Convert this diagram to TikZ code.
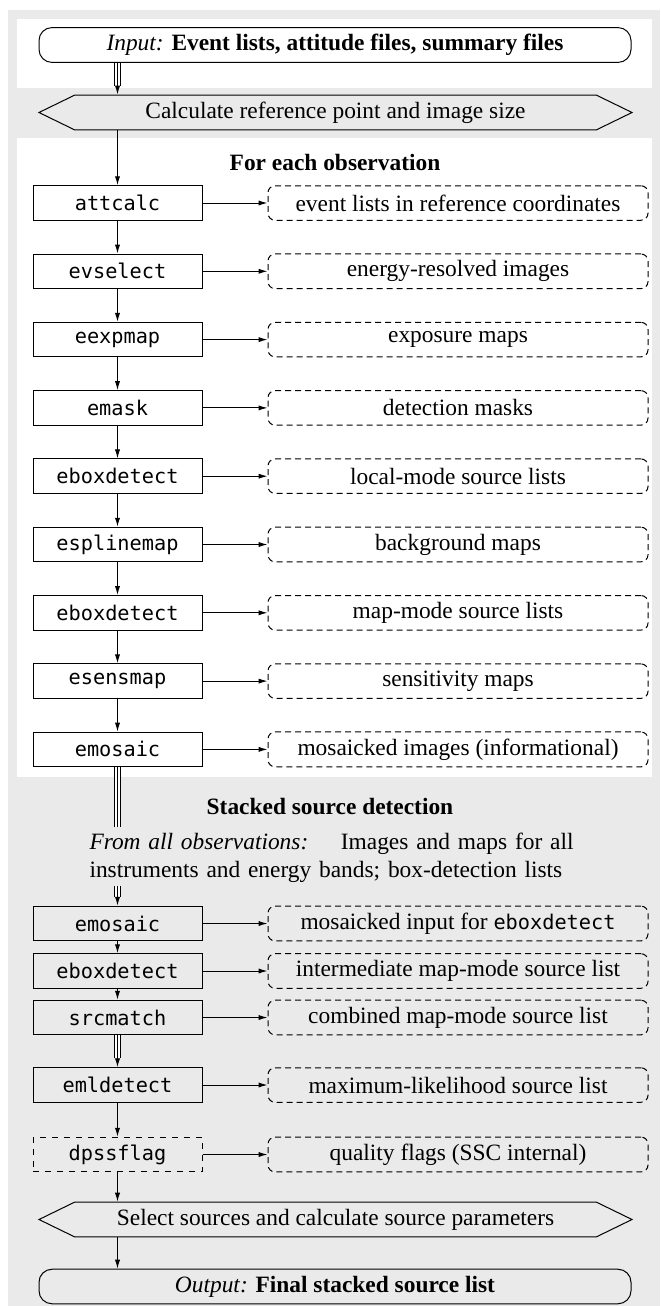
\documentclass[tikz,border=0pt]{standalone}
\usepackage{fontspec}
\setmainfont{Liberation Serif}
\setmonofont[Scale=0.866]{DejaVu Sans Mono}
\usepackage{xcolor}
\usepackage{tikz}
\usetikzlibrary{shapes.symbols, arrows.meta, positioning}
\definecolor{panelgray}{RGB}{234,234,234}
\newcommand{\diagfont}{\fontsize{11.7pt}{14pt}\selectfont}
\tikzstyle{arrow} = [->, >={Latex[length=4.5pt,width=2.6pt]}]
\tikzstyle{tripleline} = [double, double distance=2.5pt]
\tikzstyle{task} = [draw, rectangle, minimum width=84.5pt, minimum height=17.25pt, align=center, font=\diagfont\ttfamily]
\tikzstyle{product} = [draw, dashed, dash pattern=on 3pt off 2pt, rounded corners=3.5pt, rectangle, minimum width=190pt, minimum height=17.25pt, align=center]
\tikzstyle{terminal} = [draw, rectangle, rounded corners=6.5pt, minimum width=296pt, minimum height=17pt, align=center]
\tikzstyle{stage} = [draw, fill=panelgray, signal, signal to=west and east, signal pointer angle=52, minimum width=296.5pt, minimum height=16.5pt]

\begin{document}
\begin{tikzpicture}[x=0.5pt, y=-0.5pt, font=\diagfont, line width=0.5pt]
    \useasboundingbox (0,0) rectangle (660,1306);
    % panels
    \fill[panelgray] (8,10) rectangle (660,1306);
    \fill[white] (17,19) rectangle (652,88);
    \fill[white] (17,138) rectangle (652,777);

    \node[terminal] (input) at (335,45) {\textit{Input:} \textbf{Event lists, attitude files, summary files}};
    \node[stage] (refpoint) at (335.5,112.5) {Calculate reference point and image size};
    \node[font=\diagfont\bfseries] (eachobs) at (335,162) {For each observation};

    % per observation
    \node[task] (attcalc) at (117.5,203) {attcalc};
    \node[task, below=16.4pt of attcalc] (evselect) {evselect};
    \node[task, below=16.4pt of evselect] (eexpmap) {eexpmap};
    \node[task, below=16.4pt of eexpmap] (emask) {emask};
    \node[task, below=16.4pt of emask] (boxlocal) {eboxdetect};
    \node[task, below=16.4pt of boxlocal] (esplinemap) {esplinemap};
    \node[task, below=16.4pt of esplinemap] (boxmap) {eboxdetect};
    \node[task, below=16.4pt of boxmap] (esensmap) {esensmap};
    \node[task, below=16.4pt of esensmap] (mosaicinfo) {emosaic};

    \node[product, right=32.5pt of attcalc] (evlists) {event lists in reference coordinates};
    \node[product, right=32.5pt of evselect] (images) {energy-resolved images};
    \node[product, right=32.5pt of eexpmap] (expmaps) {exposure maps};
    \node[product, right=32.5pt of emask] (masks) {detection masks};
    \node[product, right=32.5pt of boxlocal] (locallist) {local-mode source lists};
    \node[product, right=32.5pt of esplinemap] (bkgmaps) {background maps};
    \node[product, right=32.5pt of boxmap] (maplist) {map-mode source lists};
    \node[product, right=32.5pt of esensmap] (sensmaps) {sensitivity maps};
    \node[product, right=32.5pt of mosaicinfo] (mosaicimg) {mosaicked images (informational)};

    % stacked detection
    \node[font=\diagfont\bfseries] (stacked) at (330,807) {Stacked source detection};
    \node[text width=242pt, align=left, inner sep=0pt] (allobs) at (331.5,858) {\textit{From all observations:}\hfill Images and maps for all\\ instruments and energy bands; box-detection lists};
    \coordinate (stackend) at (117.5,827);
    \coordinate (allobsout) at (117.5,886);

    \node[task] (mosaicin) at (117.5,923.5) {emosaic};
    \node[task, below=6pt of mosaicin] (boxinter) {eboxdetect};
    \node[task, below=5.5pt of boxinter] (srcmatch) {srcmatch};
    \node[task, below=16pt of srcmatch] (emldetect) {emldetect};
    \node[task, dashed, below=17pt of emldetect] (dpssflag) {dpssflag};
    \node[stage] (select) at (335.5,1219.5) {Select sources and calculate source parameters};
    \node[terminal] (output) at (335,1286.5) {\textit{Output:} \textbf{Final stacked source list}};

    \node[product, right=32.5pt of mosaicin] (mosaicout) {mosaicked input for \texttt{eboxdetect}};
    \node[product, right=32.5pt of boxinter] (interlist) {intermediate map-mode source list};
    \node[product, right=32.5pt of srcmatch] (combined) {combined map-mode source list};
    \node[product, right=32.5pt of emldetect] (mllist) {maximum-likelihood source list};
    \node[product, right=32.5pt of dpssflag] (flags) {quality flags (SSC internal)};

    % main flow
    \draw[tripleline, shorten >=4.5pt] (input.south -| attcalc) -- (refpoint.north -| attcalc);
    \draw[arrow] (input.south -| attcalc) -- (refpoint.north -| attcalc);
    \draw[arrow] (refpoint.south -| attcalc) -- (attcalc.north);
    \draw[arrow] (attcalc) -- (evselect);
    \draw[arrow] (evselect) -- (eexpmap);
    \draw[arrow] (eexpmap) -- (emask);
    \draw[arrow] (emask) -- (boxlocal);
    \draw[arrow] (boxlocal) -- (esplinemap);
    \draw[arrow] (esplinemap) -- (boxmap);
    \draw[arrow] (boxmap) -- (esensmap);
    \draw[arrow] (esensmap) -- (mosaicinfo);
    \draw[tripleline] (mosaicinfo) -- (stackend);
    \draw (mosaicinfo) -- (stackend);
    \draw[tripleline, shorten >=4.5pt] (allobsout) -- (mosaicin.north);
    \draw[arrow] (allobsout) -- (mosaicin.north);
    \draw[arrow] (mosaicin) -- (boxinter);
    \draw[arrow] (boxinter) -- (srcmatch);
    \draw[tripleline, shorten >=4.5pt] (srcmatch) -- (emldetect);
    \draw[arrow] (srcmatch) -- (emldetect);
    \draw[arrow] (emldetect) -- (dpssflag);
    \draw[arrow] (dpssflag) -- (select.north -| dpssflag);
    \draw[arrow] (select.south -| dpssflag) -- (output.north -| dpssflag);

    % products
    \draw[arrow] (attcalc) -- (evlists);
    \draw[arrow] (evselect) -- (images);
    \draw[arrow] (eexpmap) -- (expmaps);
    \draw[arrow] (emask) -- (masks);
    \draw[arrow] (boxlocal) -- (locallist);
    \draw[arrow] (esplinemap) -- (bkgmaps);
    \draw[arrow] (boxmap) -- (maplist);
    \draw[arrow] (esensmap) -- (sensmaps);
    \draw[arrow] (mosaicinfo) -- (mosaicimg);
    \draw[arrow] (mosaicin) -- (mosaicout);
    \draw[arrow] (boxinter) -- (interlist);
    \draw[arrow] (srcmatch) -- (combined);
    \draw[arrow] (emldetect) -- (mllist);
    \draw[arrow] (dpssflag) -- (flags);
\end{tikzpicture}
\end{document}
